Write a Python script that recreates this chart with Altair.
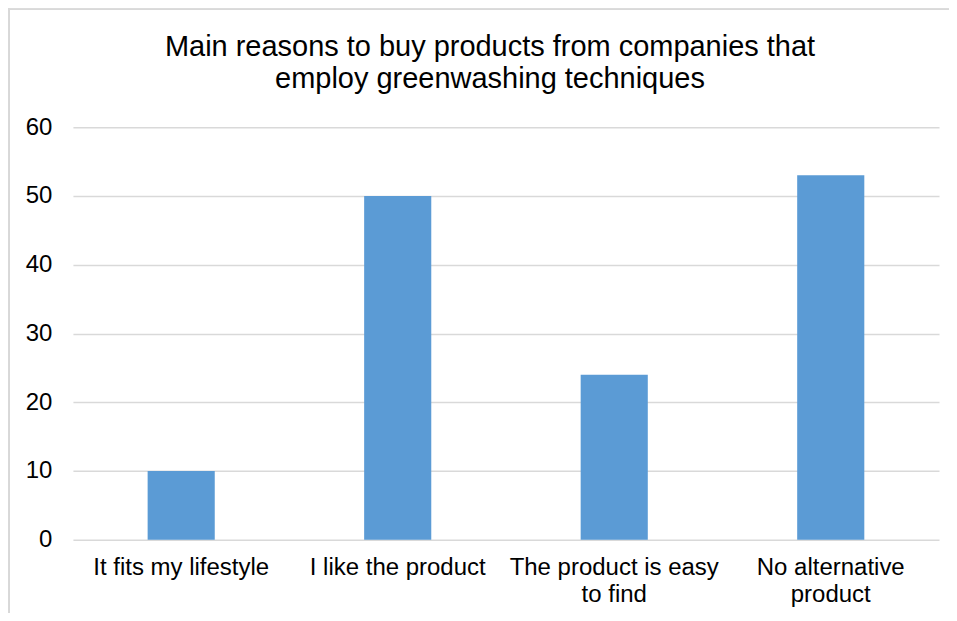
import altair as alt
import pandas as pd

categories = ["It fits my lifestyle", "I like the product", "The product is easy to find", "No alternative product"]
values = [10, 50, 24, 53]
title_lines = ["Main reasons to buy products from companies that", "employ greenwashing techniques"]

df = pd.DataFrame({"reason": categories, "count": values})

W, H = 867, 413
PL, PT = 65, 119

label_expr = (
    "datum.label == 'The product is easy to find' ? ['The product is easy', 'to find'] : "
    "datum.label == 'No alternative product' ? ['No alternative', 'product'] : datum.label"
)

bars = alt.Chart(df).mark_bar(color="#5B9BD5").encode(
    x=alt.X("reason:N", sort=categories, title=None,
            scale=alt.Scale(paddingInner=0.69, paddingOuter=0.345),
            axis=alt.Axis(labelAngle=0, labelFontSize=24, labelFont="Liberation Sans",
                          labelColor="#000000", labelPadding=16, ticks=False, domain=False,
                          labelExpr=label_expr, labelLineHeight=27, labelBaseline="top",
                          labelLimit=400)),
    y=alt.Y("count:Q", title=None,
            scale=alt.Scale(domain=[0, 60], nice=False),
            axis=alt.Axis(values=[0, 10, 20, 30, 40, 50, 60], labelFontSize=24,
                          labelFont="Liberation Sans", labelColor="#000000",
                          labelPadding=21, ticks=False, domain=False,
                          gridColor="#d9d9d9", gridWidth=1.5)),
)

border = alt.Chart(df).mark_rule(color="#d9d9d9", strokeWidth=1.5).encode(
    x=alt.value(-PL + 1), x2=alt.value(-PL + 1), y=alt.value(-PT), y2=alt.value(H + 80)
)
border_top = alt.Chart(df).mark_rule(color="#d9d9d9", strokeWidth=1.5).encode(
    x=alt.value(-PL), x2=alt.value(W + 30), y=alt.value(-PT + 1), y2=alt.value(-PT + 1)
)

chart = alt.layer(bars, border, border_top).properties(
    width=W, height=H,
    autosize=alt.AutoSizeParams(type="none"),
    padding={"left": PL, "top": PT, "right": 942 - W - PL, "bottom": 73},
    title=alt.TitleParams(text=title_lines, fontSize=29, font="Liberation Sans",
                          fontWeight="normal", color="#000000", anchor="middle",
                          frame="group", dx=-16, offset=-87, lineHeight=33),
).configure_view(stroke=None)

chart.save("out.html", embed_options={"renderer": "svg", "actions": False})
